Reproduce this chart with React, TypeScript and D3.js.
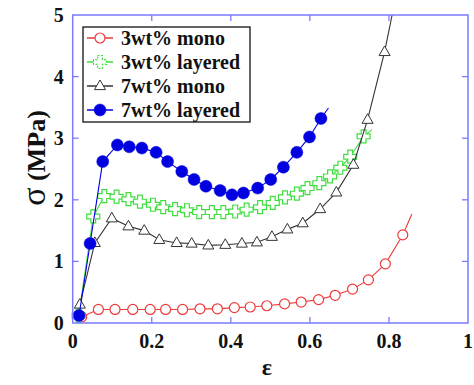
import React, { useEffect, useRef } from 'react';
import * as d3 from 'd3';

// strain / stress readings (last point of some series is a line tail without marker)
const eps3Mono = [0.023, 0.065, 0.107, 0.152, 0.196, 0.235, 0.278, 0.322, 0.366, 0.409, 0.449, 0.491, 0.536, 0.578, 0.622, 0.664, 0.708, 0.748, 0.791, 0.835, 0.858];
const sig3Mono = [0.10, 0.22, 0.22, 0.22, 0.22, 0.22, 0.22, 0.23, 0.23, 0.25, 0.26, 0.28, 0.31, 0.34, 0.38, 0.45, 0.55, 0.70, 0.96, 1.43, 1.77];

const eps3Layer = [0.015, 0.052, 0.08, 0.111, 0.141, 0.17, 0.203, 0.229, 0.259, 0.289, 0.32, 0.352, 0.381, 0.411, 0.44, 0.474, 0.506, 0.537, 0.567, 0.594, 0.624, 0.651, 0.677, 0.702, 0.736, 0.757];
const sig3Layer = [0.12, 1.73, 2.06, 2.05, 2.01, 1.97, 1.92, 1.88, 1.85, 1.83, 1.80, 1.80, 1.80, 1.81, 1.84, 1.88, 1.95, 2.04, 2.10, 2.19, 2.27, 2.38, 2.52, 2.70, 3.03, 3.14];

const eps7Mono = [0.018, 0.056, 0.099, 0.141, 0.181, 0.219, 0.263, 0.301, 0.343, 0.386, 0.428, 0.466, 0.504, 0.543, 0.582, 0.626, 0.667, 0.71, 0.746, 0.789, 0.808];
const sig7Mono = [0.30, 1.30, 1.70, 1.57, 1.50, 1.35, 1.30, 1.29, 1.26, 1.27, 1.29, 1.31, 1.40, 1.52, 1.62, 1.85, 2.12, 2.57, 3.30, 4.40, 5.0];

const eps7Layer = [0.016, 0.044, 0.076, 0.113, 0.143, 0.175, 0.211, 0.24, 0.276, 0.307, 0.337, 0.373, 0.403, 0.432, 0.468, 0.501, 0.533, 0.567, 0.599, 0.628, 0.647];
const sig7Layer = [0.12, 1.29, 2.62, 2.89, 2.86, 2.84, 2.77, 2.62, 2.46, 2.33, 2.22, 2.15, 2.08, 2.11, 2.19, 2.33, 2.53, 2.77, 3.02, 3.32, 3.49];

const seriesNames = ['3wt% mono', '3wt% layered', '7wt% mono', '7wt% layered'];
const xTicks = [0, 0.2, 0.4, 0.6, 0.8, 1];
const yTicks = [0, 1, 2, 3, 4, 5];

const width = 474;
const height = 385;
const margin = { top: 15, right: 6, bottom: 62, left: 72.7 };
const axisColor = '#7b7bff';
const font = '"Liberation Serif", "Times New Roman", serif';

const crossPath = (a: number, b: number) =>
  `M${-a},${-b}H${a}V${-a}H${b}V${a}H${a}V${b}H${-a}V${a}H${-b}V${-a}H${-a}Z`;

const App = () => {
  const svgRef = useRef<SVGSVGElement>(null);

  useEffect(() => {
    const svg = d3.select(svgRef.current);
    svg.selectAll('*').remove();

    const plotW = width - margin.left - margin.right;
    const plotH = height - margin.top - margin.bottom;

    const x = d3.scaleLinear().domain([0, 1]).range([0, plotW]);
    const y = d3.scaleLinear().domain([0, 5]).range([plotH, 0]);

    const plot = svg.append('g').attr('transform', `translate(${margin.left},${margin.top})`);

    const series = [
      { eps: eps3Mono, sig: sig3Mono, color: '#ee3a3a', marker: 'circle', tail: true },
      { eps: eps3Layer, sig: sig3Layer, color: '#3ede3e', marker: 'cross', tail: true },
      { eps: eps7Mono, sig: sig7Mono, color: '#333333', marker: 'triangle', tail: true },
      { eps: eps7Layer, sig: sig7Layer, color: '#0000e0', marker: 'dot', tail: true },
    ];

    const drawMarker = (g: any, kind: string, color: string, dashed = false) => {
      if (kind === 'circle') {
        g.append('circle').attr('r', 5).attr('fill', 'white').attr('stroke', color).attr('stroke-width', 1.2);
      } else if (kind === 'cross') {
        g.append('path').attr('d', crossPath(2.4, 6.5)).attr('fill', 'white')
          .attr('stroke', color).attr('stroke-width', 1.2)
          .attr('stroke-dasharray', dashed ? '2,1.5' : null);
      } else if (kind === 'triangle') {
        g.append('path').attr('d', 'M0,-6L5.5,3.6L-5.5,3.6Z').attr('fill', 'white')
          .attr('stroke', color).attr('stroke-width', 1);
      } else {
        g.append('circle').attr('r', 6).attr('fill', color).attr('stroke', color).attr('stroke-width', 0.5);
      }
    };

    const line = d3.line<[number, number]>().x(d => x(d[0])).y(d => y(d[1]));

    series.forEach(s => {
      const pts: [number, number][] = s.eps.map((e, i) => [e, s.sig[i]]);
      plot.append('path').datum(pts).attr('d', line).attr('fill', 'none')
        .attr('stroke', s.color).attr('stroke-width', 1.1);
      const markPts = s.tail ? pts.slice(0, -1) : pts;
      markPts.forEach(p => {
        const g = plot.append('g').attr('transform', `translate(${x(p[0])},${y(p[1])})`);
        drawMarker(g, s.marker, s.color);
      });
    });

    // frame with inward ticks on all sides
    plot.append('rect').attr('width', plotW).attr('height', plotH)
      .attr('fill', 'none').attr('stroke', axisColor).attr('stroke-width', 1.5);
    const tl = 6;
    xTicks.slice(1, -1).forEach(t => {
      plot.append('line').attr('x1', x(t)).attr('x2', x(t)).attr('y1', plotH).attr('y2', plotH - tl).attr('stroke', axisColor).attr('stroke-width', 1.3);
      plot.append('line').attr('x1', x(t)).attr('x2', x(t)).attr('y1', 0).attr('y2', tl).attr('stroke', axisColor).attr('stroke-width', 1.3);
    });
    yTicks.slice(1, -1).forEach(t => {
      plot.append('line').attr('x1', 0).attr('x2', tl).attr('y1', y(t)).attr('y2', y(t)).attr('stroke', axisColor).attr('stroke-width', 1.3);
      plot.append('line').attr('x1', plotW).attr('x2', plotW - tl).attr('y1', y(t)).attr('y2', y(t)).attr('stroke', axisColor).attr('stroke-width', 1.3);
    });

    // tick labels
    xTicks.forEach(t => {
      plot.append('text').attr('x', x(t)).attr('y', plotH + 25).attr('text-anchor', 'middle')
        .attr('font-family', font).attr('font-weight', 'bold').attr('font-size', 20).attr('fill', '#111')
        .text(t === 0 ? '0' : t === 1 ? '1' : d3.format('.1f')(t));
    });
    yTicks.forEach(t => {
      plot.append('text').attr('x', -9).attr('y', y(t) + 7).attr('text-anchor', 'end')
        .attr('font-family', font).attr('font-weight', 'bold').attr('font-size', 20).attr('fill', '#111')
        .text(String(t));
    });

    // axis titles
    const yl = svg.append('text').attr('transform', `translate(45,158) rotate(-90)`)
      .attr('text-anchor', 'middle').attr('font-family', font).attr('font-weight', 'bold')
      .attr('font-size', 26).attr('fill', '#111');
    yl.append('tspan').attr('font-size', 34).attr('font-weight', 'normal').text('σ');
    yl.append('tspan').text(' (MPa)');
    svg.append('text').attr('x', 267).attr('y', 375).attr('text-anchor', 'middle')
      .attr('font-family', font).attr('font-weight', 'bold').attr('font-size', 24).attr('fill', '#111')
      .text('ε');

    // legend
    const lg = svg.append('g').attr('transform', 'translate(83,27)');
    lg.append('rect').attr('width', 167).attr('height', 95).attr('fill', 'white')
      .attr('stroke', '#111').attr('stroke-width', 1.3);
    series.forEach((s, i) => {
      const ry = 11 + i * 24;
      lg.append('line').attr('x1', 4).attr('x2', 30).attr('y1', ry).attr('y2', ry)
        .attr('stroke', s.color).attr('stroke-width', 1.5);
      const g = lg.append('g').attr('transform', `translate(17,${ry})`);
      drawMarker(g, s.marker, s.color, true);
      lg.append('text').attr('x', 38).attr('y', ry + 6.5).attr('font-family', font)
        .attr('font-weight', 'bold').attr('font-size', 20).attr('fill', '#111').text(seriesNames[i]);
    });
  }, []);

  return (
    <svg ref={svgRef} width={width} height={height}
      style={{ position: 'absolute', left: 0, top: 0, background: 'white' }} />
  );
};

export default App;
